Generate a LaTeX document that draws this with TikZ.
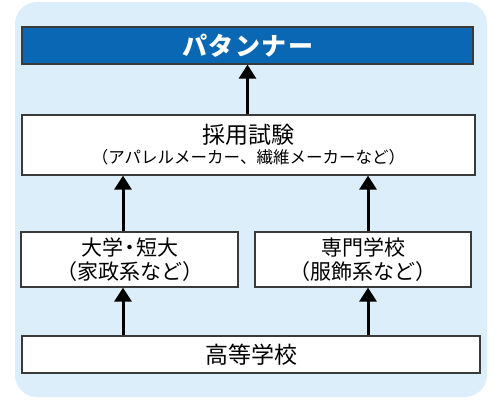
\documentclass[tikz,border=0pt]{standalone}
\usepackage{fontspec}
\newfontfamily\jpfont{Noto Sans CJK JP}
\usepackage{xcolor}
\definecolor{bgblue}{HTML}{DDEEFB}
\definecolor{headblue}{HTML}{0A67B3}
\definecolor{edgegray}{HTML}{3A3A3A}
\usepackage{tikz}
\usetikzlibrary{arrows.meta,positioning}
\tikzset{
  every picture/.style = {
    x = 1pt,
    y = -1pt,
    >={Triangle[width=17pt,length=14pt]},
  }
  ,
  % plain boxes of the chart
  stage/.style = {
    rectangle,
    draw = edgegray,
    line width = 1.2pt,
    fill = white,
    align = center,
    inner sep = 0pt,
    font = \jpfont\fontsize{21}{24}\selectfont
  }
  , % the goal at the top
  goal/.style = {
    stage,
    fill = headblue,
    text = white,
    font = \jpfont\bfseries\fontsize{25}{28}\selectfont
  }
  , % arrows between boxes
  step-edge/.style = {
    ->,
    line width = 3pt
  }
}

\begin{document}
\begin{tikzpicture}
\useasboundingbox (0,0) rectangle (500,400);
\fill[bgblue, rounded corners=22pt] (15,2) rectangle (487,397);
\node[goal, minimum width=451pt, minimum height=37pt] at (247.5,45.5) (goal) {パ\kern1.5ptタ\kern1.5ptン\kern1.5ptナ\kern1.5ptー};
\node[stage, minimum width=453pt, minimum height=60pt, font=\jpfont\fontsize{23}{25}\selectfont] at (248.5,145) (exam)
  {採用試験\\[-5pt]{\fontsize{16.5}{19}\selectfont（アパレルメーカー、繊維メーカーなど）}};
\node[stage, minimum width=217pt, minimum height=55pt] at (129.5,259.5) (univ) {大学\kern-4pt・\kern-4pt短大\\（家政系など）};
\node[stage, minimum width=216pt, minimum height=55pt] at (363,259.5) (school) {専門学校\\（服飾系など）};
\node[stage, minimum width=458pt, minimum height=37pt, font=\jpfont\fontsize{23}{26}\selectfont] at (251,354.5) (high) {高等学校};
\coordinate (left) at (123,0);
\coordinate (right) at (368,0);
\draw[step-edge] (exam.north -| goal) -- (goal.south);
\draw[step-edge] (univ.north -| left) -- (exam.south -| left);
\draw[step-edge] (school.north -| right) -- (exam.south -| right);
\draw[step-edge] (high.north -| left) -- (univ.south -| left);
\draw[step-edge] (high.north -| right) -- (school.south -| right);
\end{tikzpicture}
\end{document}
